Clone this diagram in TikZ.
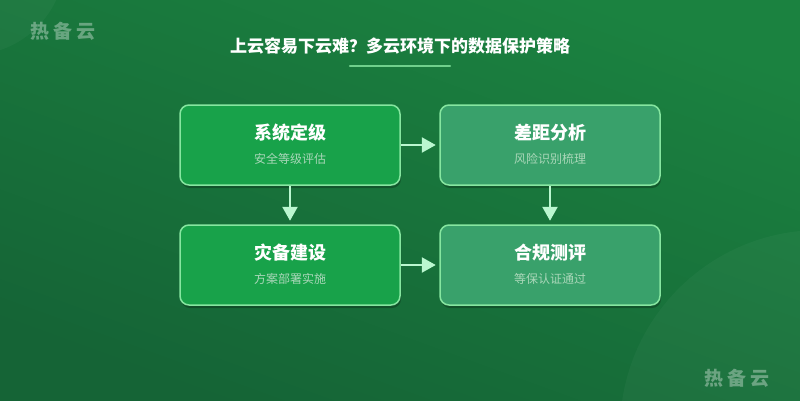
\documentclass[tikz,border=0pt]{standalone}
\usepackage{fontspec}
\setmainfont{Noto Sans CJK SC}
\newfontfamily\cjk{Noto Sans CJK SC}
\usetikzlibrary{shadows,arrows.meta}
\definecolor{bgtop}{RGB}{27,130,64}
\definecolor{bgbot}{RGB}{21,100,54}
\definecolor{boxa}{RGB}{24,162,74}
\definecolor{boxb}{RGB}{57,161,107}
\definecolor{edge}{RGB}{134,230,160}
\definecolor{arr}{RGB}{187,247,208}
\definecolor{sub}{RGB}{170,215,185}
\tikzset{
  x=1pt,y=-1pt,
  card/.style={draw=edge,line width=1.5pt,rounded corners=9pt,minimum width=220pt,minimum height=80pt,
    drop shadow={shadow xshift=1pt,shadow yshift=-3pt,opacity=0.25,fill=black}},
  cardA/.style={card,fill=boxa},
  cardB/.style={card,fill=boxb},
  ttl/.style={text=white,font=\cjk\bfseries\fontsize{18}{21}\selectfont},
  subt/.style={text=sub,font=\cjk\fontsize{12}{14}\selectfont},
  conn/.style={draw=arr,line width=2.5pt,-{Triangle[length=14pt,width=15pt]}},
  wm/.style={text=white,opacity=0.35,font=\cjk\bfseries\fontsize{19}{22}\selectfont},
}
\begin{document}
\begin{tikzpicture}
\useasboundingbox (0,0) rectangle (800,400);
\shade[top color=bgtop,bottom color=bgbot,shading angle=-20] (0,0) rectangle (800,400);
\begin{scope}
\clip (0,0) rectangle (800,400);
\fill[white,opacity=0.03] (-30,-40) circle (95);
\fill[white,opacity=0.03] (820,430) circle (200);
\end{scope}
\node[wm] (wm1) at (63,31) {热\hspace{4pt}备\hspace{4pt}云};
\node[wm] (wm2) at (737,378) {热\hspace{4pt}备\hspace{4pt}云};
\node[text=white,font=\cjk\bfseries\fontsize{17}{20}\selectfont] (title) at (400,46) {上云容易下云难？多云环境下的数据保护策略};
\coordinate (ul1) at (350,66);
\coordinate (ul2) at (450,66);
\draw[edge,opacity=0.8,line width=2.2pt,line cap=round] (ul1) -- (ul2);

\node[cardA] (b1) at (290,145) {};
\node[cardB] (b2) at (550,145) {};
\node[cardA] (b3) at (290,265) {};
\node[cardB] (b4) at (550,265) {};

\node[ttl] (t1) at (290,133) {系统定级};
\node[subt] (s1) at (290,159) {安全等级评估};
\node[ttl] (t2) at (550,133) {差距分析};
\node[subt] (s2) at (550,159) {风险识别梳理};
\node[ttl] (t3) at (290,253) {灾备建设};
\node[subt] (s3) at (290,279) {方案部署实施};
\node[ttl] (t4) at (550,253) {合规测评};
\node[subt] (s4) at (550,279) {等保认证通过};

\draw[conn] (b1.east) -- ([xshift=35pt]b1.east);
\draw[conn] (b3.east) -- ([xshift=35pt]b3.east);
\draw[conn] (b1.south) -- ([yshift=-35pt]b1.south);
\draw[conn] (b2.south) -- ([yshift=-35pt]b2.south);
\end{tikzpicture}
\end{document}
